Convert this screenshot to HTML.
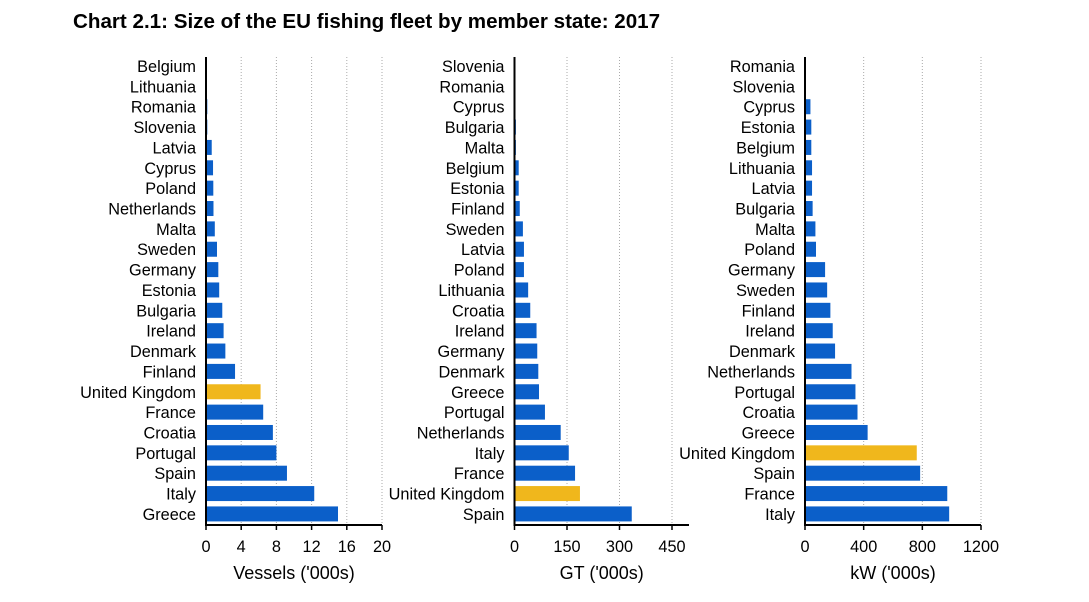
<!DOCTYPE html>
<html><head><meta charset="utf-8"><style>
html,body{margin:0;padding:0;background:#fff;width:1089px;height:602px;overflow:hidden}
svg{display:block;font-family:"Liberation Sans",Arial,sans-serif}
</style></head><body>
<svg id="chart" width="1089" height="602" viewBox="0 0 1089 602">
<text x="73" y="28" font-size="20.6" font-weight="bold" fill="#000">Chart 2.1: Size of the EU fishing fleet by member state: 2017</text>
</svg>
<script>
const vesselCats = ["Belgium","Lithuania","Romania","Slovenia","Latvia","Cyprus","Poland","Netherlands","Malta","Sweden","Germany","Estonia","Bulgaria","Ireland","Denmark","Finland","United Kingdom","France","Croatia","Portugal","Spain","Italy","Greece"];
const vesselVals = [0.07,0.1,0.15,0.15,0.65,0.8,0.83,0.85,1.0,1.25,1.4,1.5,1.85,2.0,2.2,3.3,6.2,6.5,7.6,8.0,9.2,12.3,15.0];
const vesselTicks = [0,4,8,12,16,20];
const gtCats = ["Slovenia","Romania","Cyprus","Bulgaria","Malta","Belgium","Estonia","Finland","Sweden","Latvia","Poland","Lithuania","Croatia","Ireland","Germany","Denmark","Greece","Portugal","Netherlands","Italy","France","United Kingdom","Spain"];
const gtVals = [0.5,1,2,4,4,12,12,15,24,27,27,39,45,63,65,68,70,87,132,155,173,187,335];
const gtTicks = [0,150,300,450];
const kwCats = ["Romania","Slovenia","Cyprus","Estonia","Belgium","Lithuania","Latvia","Bulgaria","Malta","Poland","Germany","Sweden","Finland","Ireland","Denmark","Netherlands","Portugal","Croatia","Greece","United Kingdom","Spain","France","Italy"];
const kwVals = [0.5,1,37,43,43,48,48,52,71,75,137,151,173,189,205,317,344,358,427,762,785,970,983];
const kwTicks = [0,400,800,1200];

const svg = document.getElementById('chart');
const NS = 'http://www.w3.org/2000/svg';
function mk(tag, attrs){const e=document.createElementNS(NS,tag);for(const k in attrs)e.setAttribute(k,attrs[k]);svg.appendChild(e);return e;}

const rowY0 = 66, pitch = 20.36, barH = 15, axisY = 525;
function panel(id, cats, vals, ticks, x0, x1, axisEnd, title){
  const max = ticks[ticks.length-1];
  const sx = v => x0 + (v/max)*(x1-x0);
  ticks.forEach((t,i)=>{
    if(i>0){
      const g = mk('line',{x1:sx(t),x2:sx(t),y1:57,y2:axisY,stroke:'#aaa','stroke-width':1,'stroke-dasharray':'1,2'});
      
      
    }
    const tk = mk('line',{x1:sx(t),x2:sx(t),y1:axisY,y2:axisY+5,stroke:'#000','stroke-width':1.5});
    
    
    const tl = mk('text',{x:sx(t),y:552,'font-size':16.3,'text-anchor':'middle',fill:'#000'});
    tl.textContent = t;
    
    
  });
  cats.forEach((c,i)=>{
    const cy = rowY0 + i*pitch;
    const b = mk('rect',{x:x0,y:cy-barH/2,width:Math.max(0,sx(vals[i])-x0),height:barH,fill:c==='United Kingdom'?'#F0B71C':'#0B5FC9'});
    
    
    const l = mk('text',{x:x0-10,y:cy+6,'font-size':16.3,'text-anchor':'end',fill:'#000'});
    l.textContent = c;
    
    
  });
  const ya = mk('line',{x1:x0,x2:x0,y1:57,y2:axisY+1,stroke:'#000','stroke-width':2});
  
  
  const xa = mk('line',{x1:x0-1,x2:axisEnd,y1:axisY,y2:axisY,stroke:'#000','stroke-width':2});
  
  
  const at = mk('text',{x:(x0+axisEnd)/2,y:579,'font-size':18,'text-anchor':'middle',fill:'#000'});
  at.textContent = title;
  
  
}
panel('vessels', vesselCats, vesselVals, vesselTicks, 206, 382, 382, "Vessels ('000s)");
panel('gt', gtCats, gtVals, gtTicks, 514.5, 672, 689, "GT ('000s)");
panel('kw', kwCats, kwVals, kwTicks, 805, 981, 981, "kW ('000s)");
</script>
</body></html>
